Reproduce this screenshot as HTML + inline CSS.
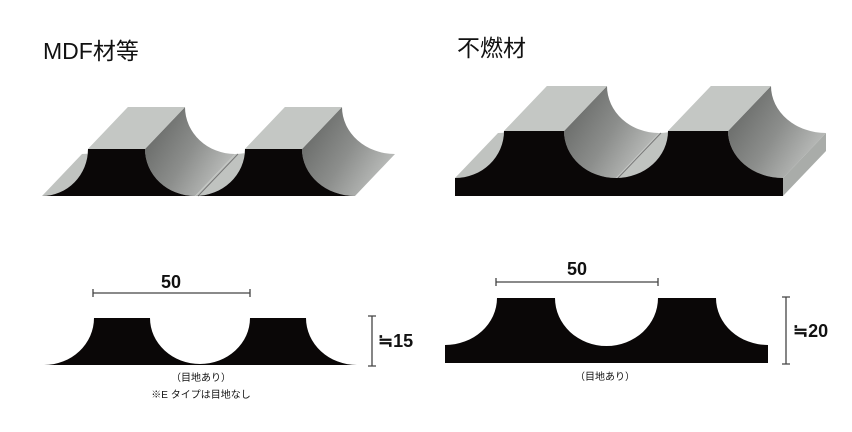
<!DOCTYPE html>
<html><head><meta charset="utf-8"><style>
html,body{margin:0;padding:0;background:#fff;width:852px;height:432px;overflow:hidden}
</style></head><body>
<svg width="852" height="432" viewBox="0 0 852 432" xmlns="http://www.w3.org/2000/svg">
<defs>
<linearGradient id="g" x1="0" y1="0.2" x2="1" y2="0.8">
<stop offset="0" stop-color="#636563"/><stop offset="0.5" stop-color="#8c8e8c"/><stop offset="1" stop-color="#c6c8c6"/>
</linearGradient>
<path id="pL" d="M42,196 A46 47 0 0 0 88,149 L145,149 A50 47 0 0 0 245,149 L302,149 A53 47 0 0 0 355,196 Z"/>
<path id="pR" d="M455,196 L455,178 A49 47 0 0 0 504,131 L564,131 A52 47 0 0 0 668,131 L728,131 A55 47 0 0 0 783,178 L783,196 Z"/>
</defs>
<g font-family="'Liberation Sans','Noto Sans CJK JP',sans-serif" fill="#111">
<text x="43" y="59" font-size="23">MDF材等</text>
<text x="457" y="56" font-size="23">不燃材</text>
</g>
<!-- left 3D -->
<path d="M42,196 A46 47 0 0 0 88,149 L128,107 A46 47 0 0 1 82,154 Z" fill="#c0c3c0"/>
<path d="M145,149 L185,107 A50 47 0 0 0 235,154 L195,196 A50 47 0 0 1 145,149 Z" fill="url(#g)"/>
<path d="M195,196 L235,154 A50 47 0 0 0 285,107 L245,149 A50 47 0 0 1 195,196 Z" fill="#c0c3c0"/>
<path d="M302,149 L342,107 A53 47 0 0 0 395,154 L355,196 A53 47 0 0 1 302,149 Z" fill="url(#g)"/>
<path d="M245,149 L302,149 L342,107 L285,107 Z" fill="#c4c7c4"/>
<path d="M88,149 L145,149 L185,107 L128,107 Z" fill="#c4c7c4"/>
<line x1="198" y1="196" x2="238" y2="154" stroke="#777" stroke-width="1"/>
<use href="#pL" fill="#0a0707"/>
<!-- right 3D -->
<path d="M455,178 A49 47 0 0 0 504,131 L547,86 A49 47 0 0 1 498,133 Z" fill="#c0c3c0"/>
<path d="M564,131 L607,86 A52 47 0 0 0 659,133 L616,178 A52 47 0 0 1 564,131 Z" fill="url(#g)"/>
<path d="M616,178 L659,133 A52 47 0 0 0 711,86 L668,131 A52 47 0 0 1 616,178 Z" fill="#c0c3c0"/>
<path d="M728,131 L771,86 A55 47 0 0 0 826,133 L783,178 A55 47 0 0 1 728,131 Z" fill="url(#g)"/>
<path d="M783,178 L826,133 L826,151 L783,196 Z" fill="#a9aca9"/>
<path d="M504,131 L564,131 L607,86 L547,86 Z" fill="#c4c7c4"/>
<path d="M668,131 L728,131 L771,86 L711,86 Z" fill="#c4c7c4"/>
<line x1="618" y1="178" x2="661" y2="133" stroke="#777" stroke-width="1"/>
<use href="#pR" fill="#0a0707"/>
<!-- left 2D -->
<path d="M44,365 A50 47 0 0 0 94,318 L150,318 A50 46 0 0 0 250,318 L306,318 A51 47 0 0 0 357,365 Z" fill="#0a0707"/>
<g stroke="#444" stroke-width="1.3" fill="none">
<path d="M93,293 H250 M93,289 V297 M250,289 V297"/>
<path d="M372,316 V366 M368,316 H376 M368,366 H376"/>
<path d="M786,297 V364 M782,297 H790 M782,364 H790"/>
<path d="M496,282 H658 M496,278 V286 M658,278 V286"/>
</g>
<path d="M445,363 L445,345 A52 47 0 0 0 497,298 L555,298 A51.5 48 0 0 0 658,298 L716,298 A52 47 0 0 0 768,345 L768,363 Z" fill="#0a0707"/>
<g font-family="'Liberation Sans','Noto Sans CJK JP',sans-serif" fill="#111">
<text x="171" y="288" font-size="18" font-weight="bold" text-anchor="middle">50</text>
<text x="577" y="275" font-size="18" font-weight="bold" text-anchor="middle">50</text>
<text x="378" y="347" font-size="18" font-weight="bold">≒15</text>
<text x="793" y="337" font-size="18" font-weight="bold">≒20</text>
<text x="201" y="381" font-size="10" text-anchor="middle">（目地あり）</text>
<text x="201" y="398" font-size="10" text-anchor="middle">※E タイプは目地なし</text>
<text x="605" y="380" font-size="10" text-anchor="middle">（目地あり）</text>
</g>
</svg>
</body></html>
